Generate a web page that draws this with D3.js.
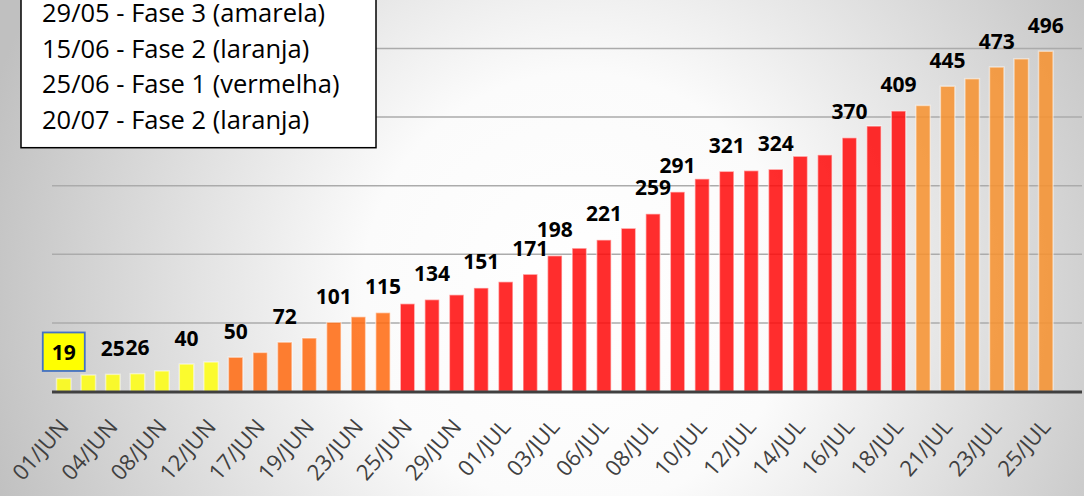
<!DOCTYPE html>
<html>
<head>
<meta charset="utf-8">
<script src="https://cdn.jsdelivr.net/npm/d3@7"></script>
<style>
  html, body { margin: 0; padding: 0; overflow: hidden; }
  svg { display: block; }
</style>
</head>
<body>
<svg id="chart" width="1084" height="496"></svg>
<script>
// ---- data ----
const dates = ["01/JUN","02/JUN","04/JUN","05/JUN","08/JUN","10/JUN","12/JUN","15/JUN","17/JUN","18/JUN",
  "19/JUN","22/JUN","23/JUN","24/JUN","25/JUN","26/JUN","29/JUN","30/JUN","01/JUL","02/JUL",
  "03/JUL","04/JUL","06/JUL","07/JUL","08/JUL","09/JUL","10/JUL","11/JUL","12/JUL","13/JUL",
  "14/JUL","15/JUL","16/JUL","17/JUL","18/JUL","20/JUL","21/JUL","22/JUL","23/JUL","24/JUL","25/JUL"];
const values = [19,24,25,26,30,40,43,50,57,72,
  78,101,109,115,128,134,141,151,160,171,
  198,209,221,238,259,291,310,321,322,324,
  343,345,370,387,409,417,445,456,473,485,496];
const fases = ["amarela","amarela","amarela","amarela","amarela","amarela","amarela",
  "laranja","laranja","laranja","laranja","laranja","laranja","laranja",
  "vermelha","vermelha","vermelha","vermelha","vermelha","vermelha","vermelha",
  "vermelha","vermelha","vermelha","vermelha","vermelha","vermelha","vermelha",
  "vermelha","vermelha","vermelha","vermelha","vermelha","vermelha","vermelha",
  "laranja2","laranja2","laranja2","laranja2","laranja2","laranja2"];
const faseColors = { amarela: "#FFFF10", laranja: "#FF6A10", vermelha: "#FF0A0A", laranja2: "#F7922E" };
const tickLabels = ["01/JUN","04/JUN","08/JUN","12/JUN","17/JUN","19/JUN","23/JUN","25/JUN","29/JUN","01/JUL",
  "03/JUL","06/JUL","08/JUL","10/JUL","12/JUL","14/JUL","16/JUL","18/JUL","21/JUL","23/JUL","25/JUL"];
const labeledDates = ["01/JUN","04/JUN","05/JUN","10/JUN","15/JUN","18/JUN","22/JUN","24/JUN","26/JUN","30/JUN",
  "02/JUL","03/JUL","06/JUL","08/JUL","09/JUL","11/JUL","13/JUL","16/JUL","18/JUL","21/JUL","23/JUL","25/JUL"];
const boxedDate = "01/JUN";
const yTicks = [100, 200, 300, 400, 500];
const legendLines = ["29/05 - Fase 3 (amarela)", "15/06 - Fase 2 (laranja)", "25/06 - Fase 1 (vermelha)", "20/07 - Fase 2 (laranja)"];

const data = dates.map((d, i) => ({ date: d, value: values[i], fase: fases[i] }));

// ---- layout ----
const W = 1084, H = 496;
const svg = d3.select("#chart");

const defs = svg.append("defs");
const grad = defs.append("radialGradient").attr("id", "bg")
  .attr("gradientUnits", "userSpaceOnUse")
  .attr("cx", 580).attr("cy", 290).attr("r", 620);
grad.append("stop").attr("offset", "0").attr("stop-color", "#ffffff");
grad.append("stop").attr("offset", "0.35").attr("stop-color", "#fbfbfb");
grad.append("stop").attr("offset", "1").attr("stop-color", "#c0c0c0");
svg.append("rect").attr("width", W).attr("height", H).attr("fill", "url(#bg)");

const x = d3.scaleBand().domain(dates).range([51.5, 1058.1]).paddingInner(0.41).paddingOuter(0.205);
const y = d3.scaleLinear().domain([0, 500]).range([391.5, 48.5]);

// gridlines
svg.append("g").selectAll("line").data(yTicks).join("line")
  .attr("x1", 52).attr("x2", 1082)
  .attr("y1", d => y(d)).attr("y2", d => y(d))
  .attr("stroke", "#ababab").attr("stroke-width", 1.5);

// bars
svg.append("g").selectAll("rect").data(data).join("rect")
  .attr("x", d => x(d.date))
  .attr("width", x.bandwidth())
  .attr("y", d => y(d.value))
  .attr("height", d => y(0) - y(d.value))
  .attr("fill", d => faseColors[d.fase])
  .attr("fill-opacity", 0.86)
  .attr("stroke", "rgba(255,255,255,0.5)")
  .attr("stroke-width", 1.5);

// x axis
const xAxis = d3.axisBottom(x).tickValues(tickLabels).tickSize(0).tickPadding(0);
const gx = svg.append("g").attr("transform", `translate(0,${y(0)})`).call(xAxis);
gx.select(".domain").remove();
gx.selectAll("text")
  .attr("font-family", "'Open Sans', sans-serif")
  .attr("font-size", 22)
  .attr("fill", "#404040")
  .attr("text-anchor", "end")
  .attr("dy", null).attr("y", null)
  .attr("transform", "translate(6,36) rotate(-49)");
svg.append("line").attr("x1", 52).attr("x2", 1082)
  .attr("y1", y(0) + 0.5).attr("y2", y(0) + 0.5)
  .attr("stroke", "#404040").attr("stroke-width", 3.2);

// data labels
const labData = data.filter(d => labeledDates.includes(d.date));
const boxD = data.find(d => d.date === boxedDate);
svg.append("rect")
  .attr("x", x(boxD.date) + x.bandwidth() / 2 - 21)
  .attr("y", y(boxD.value) - 46)
  .attr("width", 42).attr("height", 38.5)
  .attr("fill", "#FFFF00").attr("stroke", "#4472C4").attr("stroke-width", 1.8);
svg.append("g").selectAll("text").data(labData).join("text")
  .attr("x", d => x(d.date) + x.bandwidth() / 2)
  .attr("y", d => y(d.value) - 18.5)
  .attr("text-anchor", "middle")
  .attr("font-family", "'Open Sans', sans-serif")
  .attr("font-weight", "bold")
  .attr("font-size", 21)
  .attr("fill", "#000")
  .text(d => d.value);

// legend box
svg.append("rect").attr("x", 21).attr("y", -5).attr("width", 355).attr("height", 152.7)
  .attr("fill", "#ffffff").attr("stroke", "#000").attr("stroke-width", 1.5);
svg.append("g").selectAll("text").data(legendLines).join("text")
  .attr("x", 42).attr("y", (d, i) => 22 + i * 35.5)
  .attr("font-family", "'Open Sans', sans-serif")
  .attr("font-size", 25.5)
  .attr("fill", "#000")
  .text(d => d);
</script>
</body>
</html>
